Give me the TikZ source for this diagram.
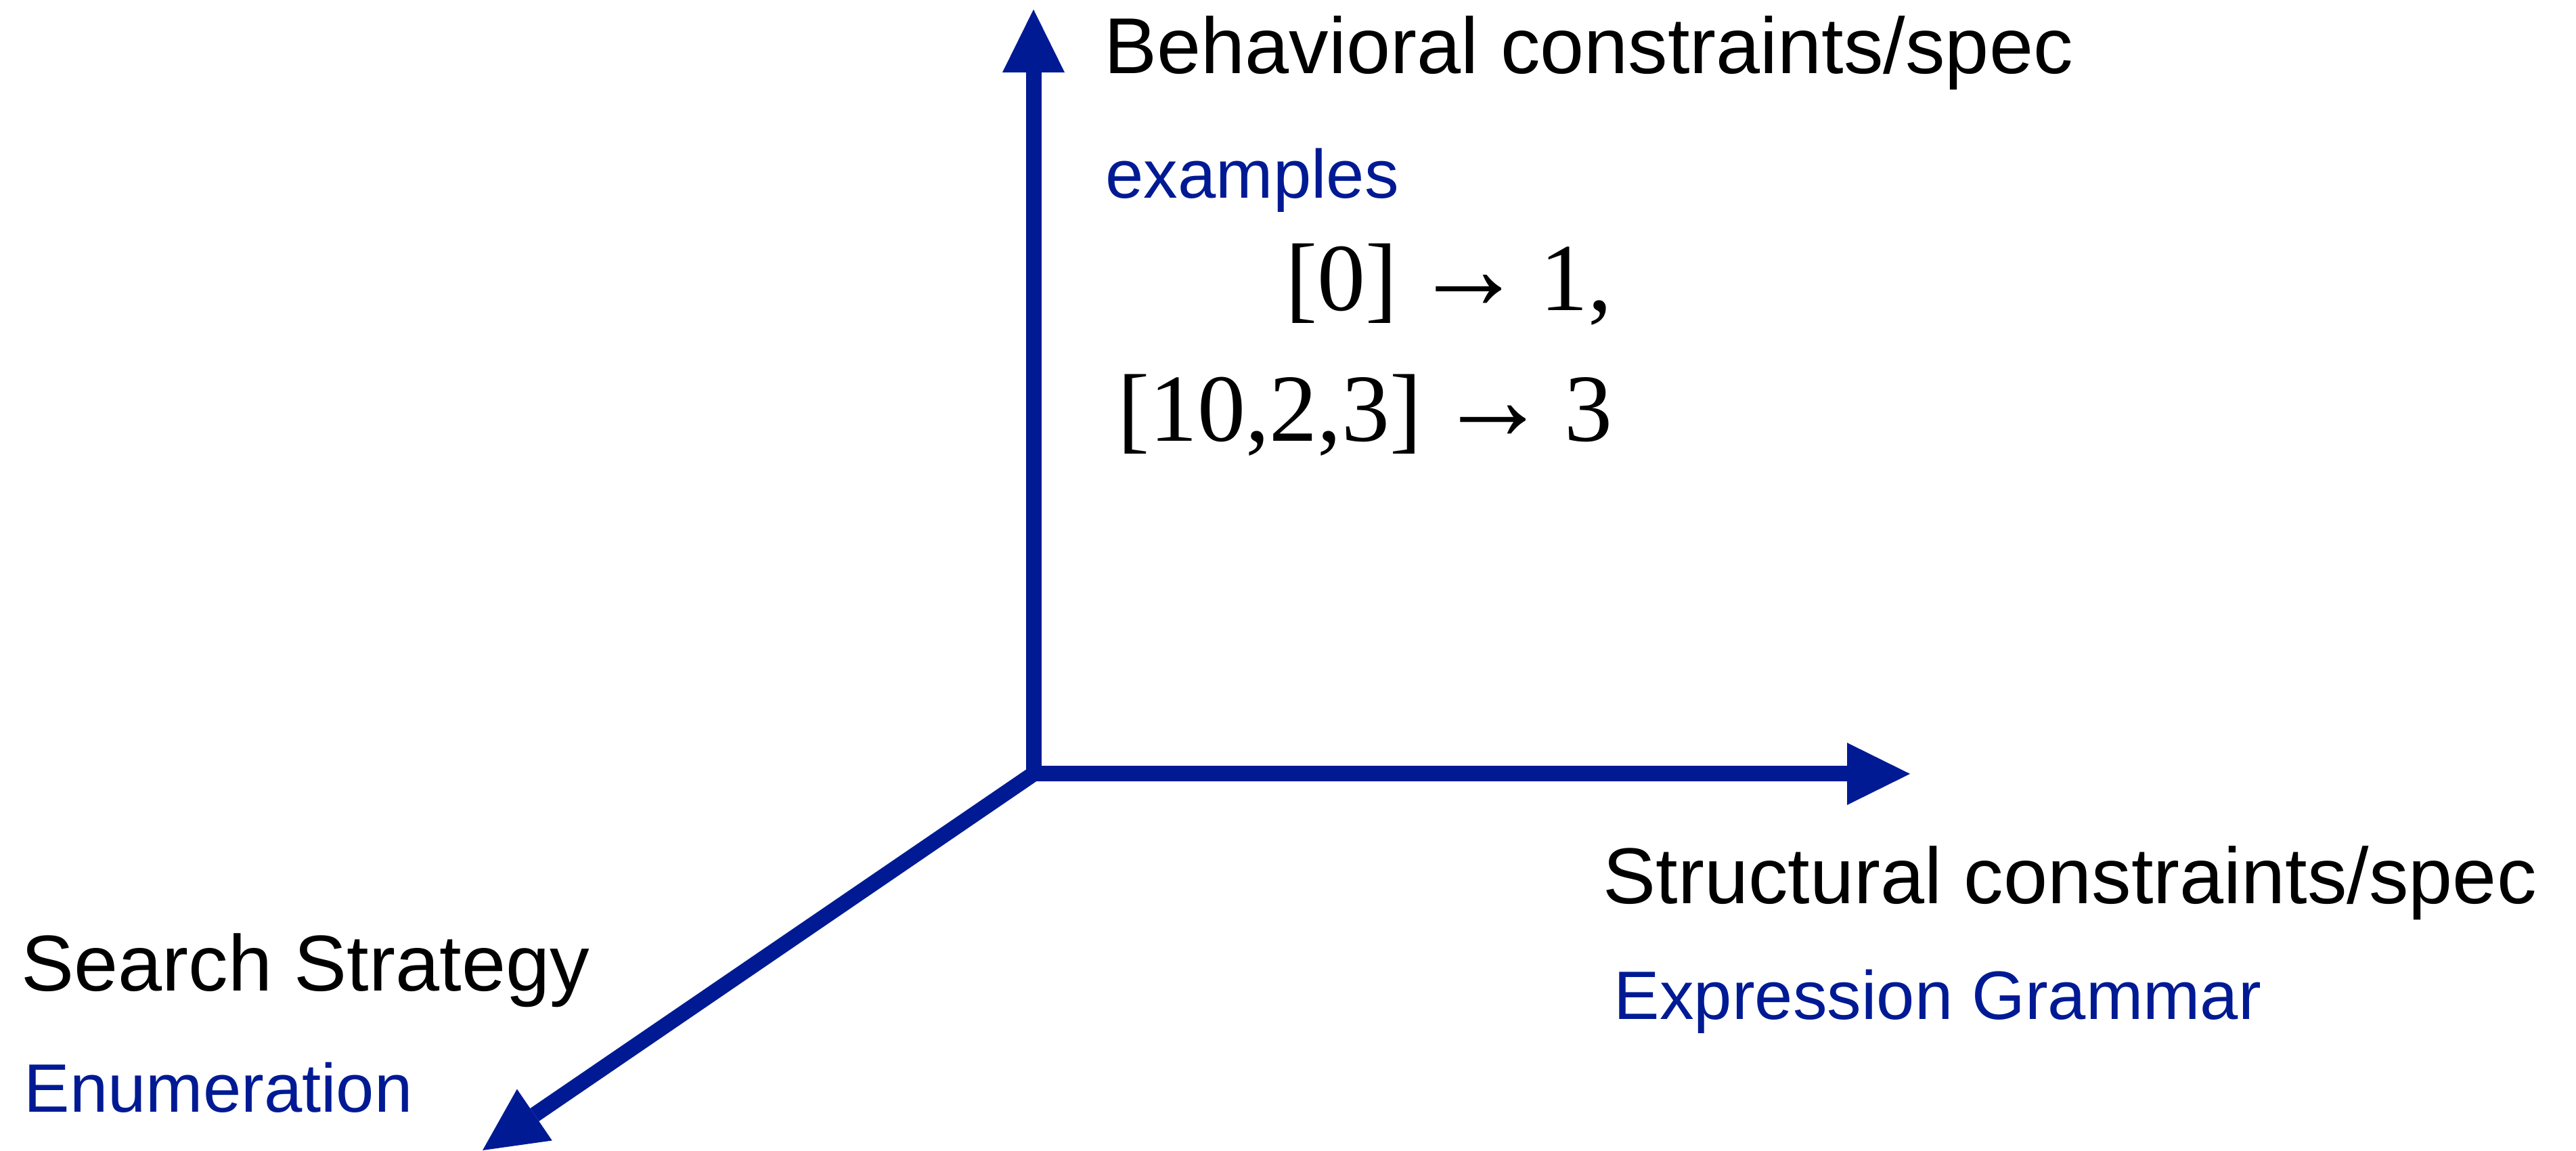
\documentclass[tikz,border=0pt]{standalone}
\usepackage{fontspec}
\usepackage{graphicx}
\setmainfont{Liberation Serif}
\setsansfont{Liberation Sans}
\usetikzlibrary{arrows.meta, positioning}
\definecolor{axisblue}{RGB}{0,26,148}
\newcommand{\maps}{\raisebox{0.02em}{\scalebox{1.15}[1.25]{\textbf{→}}}}
\tikzset{
  axis/.style={draw=axisblue, line width=0.23cm, -{Triangle[length=0.93cm, width=0.92cm, line width=0pt]}},
  title/.style={inner sep=0pt, font=\sffamily\fontsize{33.3}{40}\selectfont},
  sub/.style={inner sep=0pt, text=axisblue, font=\sffamily\fontsize{28.8}{34}\selectfont},
  ex/.style={inner sep=0pt, font=\rmfamily\fontsize{40.4}{48}\selectfont},
}

\begin{document}
\begin{tikzpicture}
    \useasboundingbox (0,0) rectangle (38.06,17);
    \coordinate (o) at (15.27,5.57);
    \coordinate (ytip) at (15.27,16.86);
    \coordinate (xtip) at (28.22,5.57);
    \coordinate (ztip) at (7.13,0.01);
    \draw[axis] (o) -- (ytip);
    \draw[axis] (o) -- (xtip);
    \draw[axis] (o) -- (ztip);
    % behavioral axis
    \node[title, anchor=base west] (beh) at (16.31,15.91) {Behavioral constraints/spec};
    \node[sub, anchor=base west] (exs) at (16.33,14.07) {examples};
    \node[ex, anchor=base east] (ex1) at (23.83,12.41) {[0]\,\maps\,1,};
    \node[ex, anchor=base east] (ex2) at (23.83,10.48) {[10,2,3]\,\maps\,3};
    % structural axis
    \node[title, anchor=base west] (str) at (23.68,3.65) {Structural constraints/spec};
    \node[sub, anchor=base west] (gram) at (23.84,1.94) {Expression Grammar};
    % search axis
    \node[title, anchor=base west] (srch) at (0.31,2.36) {Search Strategy};
    \node[sub, anchor=base west] (enum) at (0.35,0.57) {Enumeration};
\end{tikzpicture}
\end{document}
